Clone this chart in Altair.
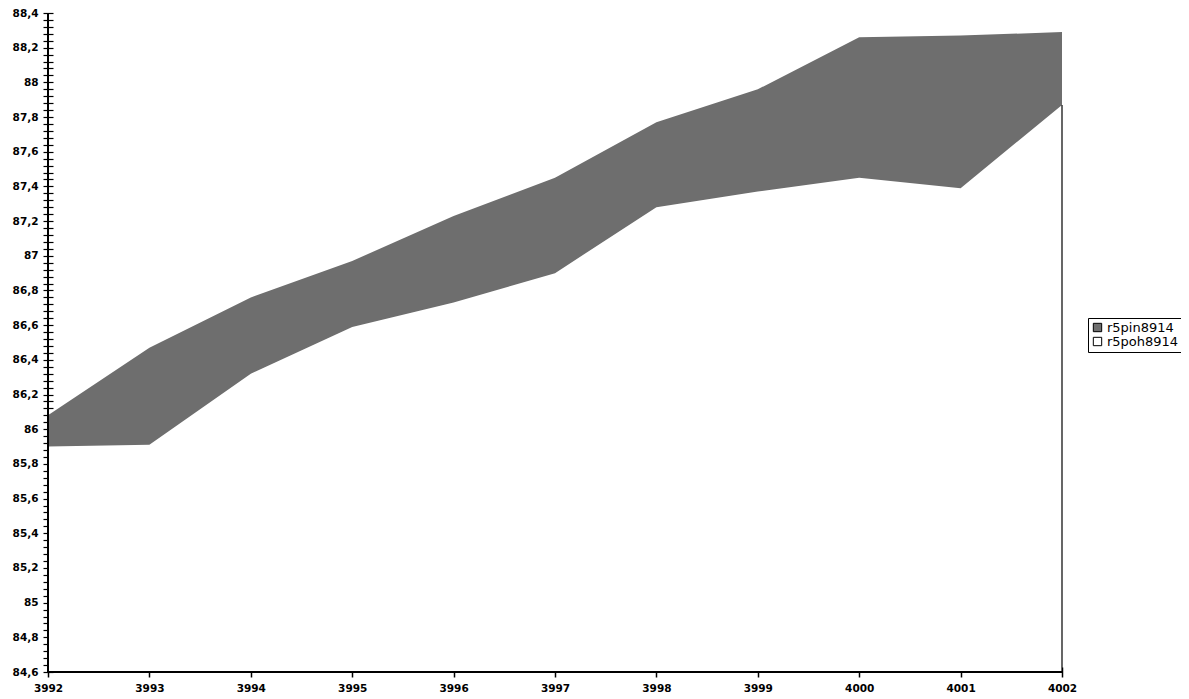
import altair as alt
import pandas as pd

years = [3992, 3993, 3994, 3995, 3996, 3997, 3998, 3999, 4000, 4001, 4002]
r5pin8914 = [86.08, 86.47, 86.76, 86.97, 87.23, 87.45, 87.77, 87.96, 88.26, 88.27, 88.29]
r5poh8914 = [85.90, 85.91, 86.32, 86.59, 86.73, 86.90, 87.28, 87.37, 87.45, 87.39, 87.87]
series_names = ["r5pin8914", "r5poh8914"]
series_colors = ["#6e6e6e", "#ffffff"]
y_min, y_max = 84.6, 88.4
y_tick_values = [round(y_min + 0.04 * i, 2) for i in range(96)]

rows = []
for name, vals in zip(series_names, [r5pin8914, r5poh8914]):
    for yr, v in zip(years, vals):
        rows.append({"year": yr, "series": name, "value": v})
df = pd.DataFrame(rows)

FONT = "DejaVu Sans"

x_scale = alt.Scale(domain=[years[0], years[-1]], nice=False)
y_scale = alt.Scale(domain=[y_min, y_max], nice=False, zero=False)

x_axis = alt.Axis(values=years, tickCount=200, format="d", domain=False, grid=False,
                  tickSize=10, tickColor="black", tickWidth=1.5, offset=-5,
                  labelPadding=6, labelFont=FONT, labelFontSize=10.5,
                  labelFontWeight="bold", labelColor="black", labelFlush=False,
                  labelOverlap=False, title=None)
y_axis = alt.Axis(values=y_tick_values, tickCount=200, domain=False, grid=False,
                  tickSize=10, tickColor="black", tickWidth=1.2, offset=-5,
                  labelPadding=5, labelFont=FONT, labelFontSize=10.5,
                  labelFontWeight="bold", labelColor="black",
                  labelOverlap=False, labelFlush=False,
                  labelExpr="abs(datum.value*5 - round(datum.value*5)) < 0.01 ? replace(format(datum.value, '.1~f'), '.', ',') : ''",
                  title=None)

color = alt.Color("series:N",
                  scale=alt.Scale(domain=series_names, range=series_colors),
                  legend=alt.Legend(title=None, orient="none", legendX=1040, legendY=305,
                                    strokeColor="black", padding=3, symbolType="square",
                                    symbolSize=70, symbolStrokeColor="black",
                                    symbolStrokeWidth=1, labelFont=FONT,
                                    labelFontSize=13, labelColor="black",
                                    rowPadding=0, labelOffset=3))

upper = alt.Chart(df).transform_filter(alt.datum.series == series_names[0]).mark_area(
    opacity=1, interpolate="linear"
).encode(
    x=alt.X("year:Q", scale=x_scale, axis=x_axis),
    y=alt.Y("value:Q", scale=y_scale, axis=y_axis, stack=None),
    y2=alt.datum(y_min),
    color=color,
)

lower = alt.Chart(df).transform_filter(alt.datum.series == series_names[1]).mark_area(
    opacity=1, interpolate="linear"
).encode(
    x=alt.X("year:Q", scale=x_scale, axis=x_axis),
    y=alt.Y("value:Q", scale=y_scale, axis=y_axis, stack=None),
    y2=alt.datum(y_min),
    color=color,
)

right_edge = alt.Chart(df).transform_filter(
    (alt.datum.series == series_names[1]) & (alt.datum.year == years[-1])
).mark_rule(color="black", strokeWidth=1.2).encode(
    x=alt.X("year:Q", scale=x_scale, axis=x_axis),
    y=alt.Y("value:Q", scale=y_scale, axis=y_axis),
    y2=alt.datum(y_min),
)

x_domain_line = alt.Chart(df).mark_rule(color="black", strokeWidth=1.5).encode(
    x=alt.datum(years[0]), x2=alt.datum(years[-1]), y=alt.datum(y_min)
)
y_domain_line = alt.Chart(df).mark_rule(color="black", strokeWidth=1.5).encode(
    x=alt.datum(years[0]), y=alt.datum(y_min), y2=alt.datum(y_max)
)

chart = alt.layer(upper, lower, right_edge, x_domain_line, y_domain_line).properties(
    width=1014, height=659,
    padding={"left": 40, "top": 5, "right": 119, "bottom": 26},
    autosize=alt.AutoSizeParams(type="none"),
    background="white",
).configure_view(strokeWidth=0)

chart.save("out.html", embed_options={"renderer": "svg", "actions": False})
